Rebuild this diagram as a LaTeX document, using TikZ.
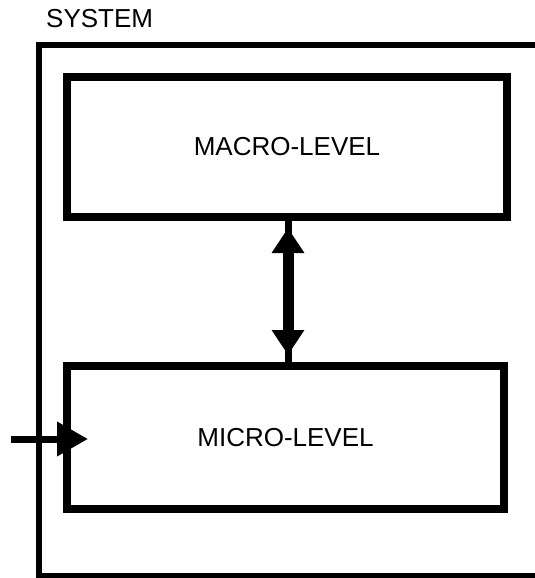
\documentclass[tikz,border=0pt]{standalone}
\usepackage{fontspec}
\setmainfont{Liberation Sans}
\usetikzlibrary{arrows.meta,calc}
\begin{document}
\begin{tikzpicture}[x=1pt,y=1pt,
  bigfont/.style={font=\fontsize{26}{30}\selectfont},
  levelbox/.style={draw, line width=8pt, inner sep=0pt, bigfont},
  sysline/.style={line width=6pt},
  stub/.style={line width=7pt},
  dblarrow/.style={line width=11pt, {Triangle[width=31pt,length=25pt]}-{Triangle[width=31pt,length=25pt]}, shorten <=7pt, shorten >=7pt},
  inarrow/.style={line width=7pt, -{Triangle[width=33pt,length=31pt]}, shorten >=-25pt}]
\useasboundingbox (0,0) rectangle (535,-578);
\clip (0,0) rectangle (535,-578);
\node[bigfont, anchor=base west, inner sep=0pt] (sys) at (46,-28) {SYSTEM};
\draw[sysline] (550,-45) -| (39,-575.5) -- (550,-575.5);
\node[levelbox, minimum width=440pt, minimum height=140pt] (macro) at (287,-147) {MACRO-LEVEL};
\node[levelbox, minimum width=437pt, minimum height=143pt] (micro) at (285.5,-437.5) {MICRO-LEVEL};
\coordinate (ax) at (288,0);
\draw[stub] (macro.south -| ax) -- (micro.north -| ax);
\draw[dblarrow] (macro.south -| ax) -- (micro.north -| ax);
\coordinate (in) at (11,-439);
\draw[inarrow] (in) -- (micro.west |- in);
\end{tikzpicture}
\end{document}
